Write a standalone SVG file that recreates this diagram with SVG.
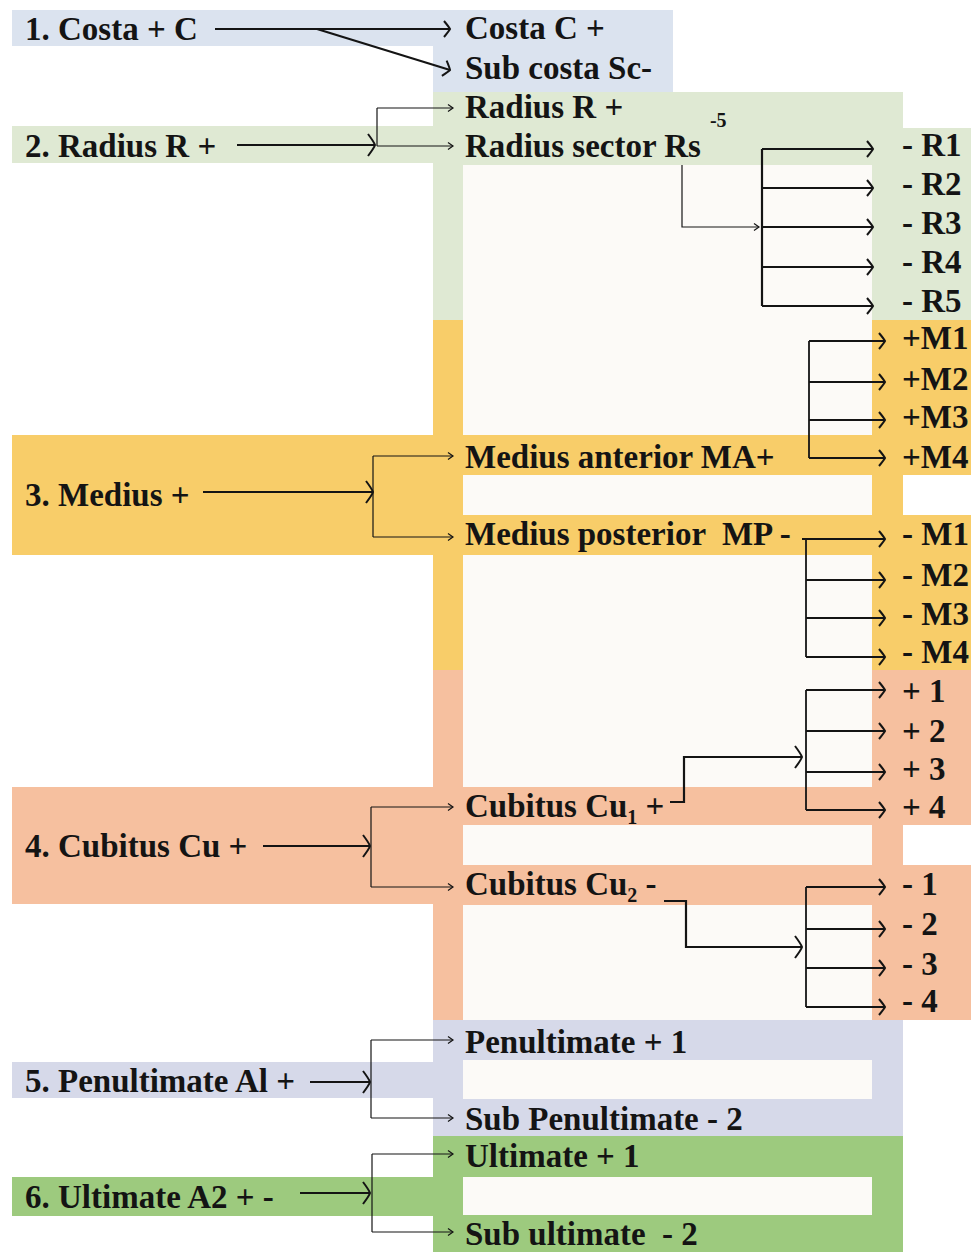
<svg xmlns="http://www.w3.org/2000/svg" width="971" height="1252" viewBox="0 0 971 1252">
<style>
text{font-family:"Liberation Serif","Times New Roman",serif;font-weight:bold;font-size:33px;fill:#141414}
.sup{font-size:20px}
.c1{fill:#dbe3ef}.c2{fill:#dfe9d3}.c3{fill:#f8cd69}.c4{fill:#f6c09f}.c5{fill:#d6d9e9}.c6{fill:#9dca7e}.ow{fill:#fcfaf7}
.th{stroke:#141414;stroke-width:2.2;fill:none}
.md{stroke:#141414;stroke-width:1.8;fill:none}
.tn{stroke:#141414;stroke-width:1.2;fill:none}
</style>
<defs>
<marker id="big" markerUnits="userSpaceOnUse" viewBox="-10 -12 12 24" markerWidth="12" markerHeight="24" refX="0" refY="0" orient="auto"><path d="M-7,-11 Q-1,-3 0,0 Q-1,3 -7,11" fill="none" stroke="#141414" stroke-width="2"/></marker>
<marker id="mid" markerUnits="userSpaceOnUse" viewBox="-10 -9 12 18" markerWidth="12" markerHeight="18" refX="0" refY="0" orient="auto"><path d="M-6,-8 Q-1,-2 0,0 Q-1,2 -6,8" fill="none" stroke="#141414" stroke-width="2"/></marker>
<marker id="sm" markerUnits="userSpaceOnUse" viewBox="-8 -5 10 10" markerWidth="10" markerHeight="10" refX="0" refY="0" orient="auto"><path d="M-5,-3.5 L0,0 L-5,3.5" fill="none" stroke="#141414" stroke-width="1.2"/></marker>
</defs>
<rect x="0" y="0" width="971" height="1252" fill="#ffffff"/>
<g id="bands">
<rect class="c1" x="12" y="10" width="661" height="36"/>
<rect class="c1" x="433" y="46" width="240" height="46"/>
<rect class="c2" x="12" y="126" width="421" height="37"/>
<rect class="c2" x="433" y="92" width="470" height="36"/>
<rect class="c2" x="433" y="128" width="538" height="37"/>
<rect class="c2" x="433" y="165" width="30" height="155"/>
<rect class="c2" x="872" y="165" width="99" height="155"/>
<rect class="ow" x="463" y="165" width="409" height="155"/>
<rect class="c3" x="433" y="320" width="30" height="350"/>
<rect class="c3" x="872" y="320" width="99" height="155"/>
<rect class="c3" x="872" y="475" width="31" height="40"/>
<rect class="c3" x="872" y="515" width="99" height="155"/>
<rect class="c3" x="463" y="435" width="409" height="40"/>
<rect class="c3" x="463" y="515" width="409" height="40"/>
<rect class="c3" x="12" y="435" width="421" height="120"/>
<rect class="ow" x="463" y="320" width="409" height="115"/>
<rect class="ow" x="463" y="475" width="409" height="40"/>
<rect class="ow" x="463" y="555" width="409" height="115"/>
<rect class="c4" x="433" y="670" width="30" height="350"/>
<rect class="c4" x="872" y="670" width="99" height="155"/>
<rect class="c4" x="872" y="825" width="31" height="40"/>
<rect class="c4" x="872" y="865" width="99" height="155"/>
<rect class="c4" x="463" y="787" width="409" height="38"/>
<rect class="c4" x="463" y="865" width="409" height="40"/>
<rect class="c4" x="12" y="787" width="421" height="117"/>
<rect class="ow" x="463" y="670" width="409" height="117"/>
<rect class="ow" x="463" y="825" width="409" height="40"/>
<rect class="ow" x="463" y="905" width="409" height="115"/>
<rect class="c5" x="433" y="1020" width="470" height="116"/>
<rect class="c5" x="12" y="1062" width="421" height="36"/>
<rect class="ow" x="463" y="1060" width="409" height="39"/>
<rect class="c6" x="433" y="1136" width="470" height="116"/>
<rect class="c6" x="12" y="1177" width="421" height="39"/>
<rect class="ow" x="463" y="1177" width="409" height="38"/>
</g>
<g id="connectors">
<path class="th" d="M215,29 H450" marker-end="url(#mid)"/>
<path class="th" d="M317,29 L450,70" marker-end="url(#mid)"/>
<path class="th" d="M237,145 H375" marker-end="url(#big)"/>
<path class="tn" d="M377,108 V146"/>
<path class="tn" d="M377,108 H453" marker-end="url(#sm)"/>
<path class="tn" d="M377,146 H453" marker-end="url(#sm)"/>
<path class="tn" d="M682,165 V227 H759" marker-end="url(#sm)"/>
<path class="th" d="M762,149 V306"/>
<path class="th" d="M762,149 H873" marker-end="url(#mid)"/>
<path class="th" d="M762,188 H873" marker-end="url(#mid)"/>
<path class="th" d="M762,227 H873" marker-end="url(#mid)"/>
<path class="th" d="M762,267 H873" marker-end="url(#mid)"/>
<path class="th" d="M762,306 H873" marker-end="url(#mid)"/>
<path class="th" d="M203,492 H373" marker-end="url(#big)"/>
<path class="tn" d="M373,456 V537"/>
<path class="tn" d="M373,456 H453" marker-end="url(#sm)"/>
<path class="tn" d="M373,537 H453" marker-end="url(#sm)"/>
<path class="md" d="M809,341 V458"/>
<path class="md" d="M809,341 H885" marker-end="url(#mid)"/>
<path class="md" d="M809,382 H885" marker-end="url(#mid)"/>
<path class="md" d="M809,420 H885" marker-end="url(#mid)"/>
<path class="md" d="M809,458 H885" marker-end="url(#mid)"/>
<path class="md" d="M806,539 V657"/>
<path class="md" d="M802,539 H885" marker-end="url(#mid)"/>
<path class="md" d="M806,580 H885" marker-end="url(#mid)"/>
<path class="md" d="M806,618 H885" marker-end="url(#mid)"/>
<path class="md" d="M806,657 H885" marker-end="url(#mid)"/>
<path class="th" d="M263,846 H370" marker-end="url(#big)"/>
<path class="tn" d="M371,807 V887"/>
<path class="tn" d="M371,807 H453" marker-end="url(#sm)"/>
<path class="tn" d="M371,887 H453" marker-end="url(#sm)"/>
<path class="th" d="M670,802 H684 V757 H802" marker-end="url(#big)"/>
<path class="md" d="M806,690 V810"/>
<path class="md" d="M806,690 H885" marker-end="url(#mid)"/>
<path class="md" d="M806,731 H885" marker-end="url(#mid)"/>
<path class="md" d="M806,772 H885" marker-end="url(#mid)"/>
<path class="md" d="M806,810 H885" marker-end="url(#mid)"/>
<path class="th" d="M664,901 H686 V947 H802" marker-end="url(#big)"/>
<path class="md" d="M806,887 V1007"/>
<path class="md" d="M806,887 H885" marker-end="url(#mid)"/>
<path class="md" d="M806,929 H885" marker-end="url(#mid)"/>
<path class="md" d="M806,968 H885" marker-end="url(#mid)"/>
<path class="md" d="M806,1007 H885" marker-end="url(#mid)"/>
<path class="th" d="M310,1082 H370" marker-end="url(#big)"/>
<path class="tn" d="M371,1040 V1118"/>
<path class="tn" d="M371,1040 H453" marker-end="url(#sm)"/>
<path class="tn" d="M371,1118 H453" marker-end="url(#sm)"/>
<path class="th" d="M300,1193 H370" marker-end="url(#big)"/>
<path class="tn" d="M372,1154 V1232"/>
<path class="tn" d="M372,1154 H453" marker-end="url(#sm)"/>
<path class="tn" d="M372,1232 H453" marker-end="url(#sm)"/>
</g>
<g id="n-costa"><text x="25" y="40">1. Costa + C</text><text x="465" y="39">Costa C +</text><text x="465" y="79">Sub costa Sc-</text></g>
<g id="n-radius"><text x="25" y="157">2. Radius R +</text><text x="465" y="118">Radius R +</text><text x="465" y="157">Radius sector Rs<tspan class="sup" dx="9" dy="-30">-5</tspan></text>
<text x="902" y="156">- R1</text><text x="902" y="195">- R2</text><text x="902" y="234">- R3</text><text x="902" y="273">- R4</text><text x="902" y="312">- R5</text></g>
<g id="n-medius"><text x="25" y="506">3. Medius +</text><text x="465" y="468">Medius anterior MA+</text><text x="465" y="545" xml:space="preserve">Medius posterior  MP -</text>
<text x="902" y="349">+M1</text><text x="902" y="390">+M2</text><text x="902" y="428">+M3</text><text x="902" y="468">+M4</text>
<text x="902" y="545">- M1</text><text x="902" y="586">- M2</text><text x="902" y="625">- M3</text><text x="902" y="663">- M4</text></g>
<g id="n-cubitus"><text x="25" y="857">4. Cubitus Cu +</text><text x="465" y="817">Cubitus Cu<tspan class="sup" dy="7">1</tspan><tspan dy="-7"> +</tspan></text><text x="465" y="895">Cubitus Cu<tspan class="sup" dy="7">2</tspan><tspan dy="-7"> -</tspan></text>
<text x="902" y="702">+ 1</text><text x="902" y="742">+ 2</text><text x="902" y="780">+ 3</text><text x="902" y="818">+ 4</text>
<text x="902" y="895">- 1</text><text x="902" y="935">- 2</text><text x="902" y="975">- 3</text><text x="902" y="1012">- 4</text></g>
<g id="n-penultimate"><text x="25" y="1092">5. Penultimate Al +</text><text x="465" y="1053">Penultimate + 1</text><text x="465" y="1130">Sub Penultimate - 2</text></g>
<g id="n-ultimate"><text x="25" y="1208">6. Ultimate A2 + -</text><text x="465" y="1167">Ultimate + 1</text><text x="465" y="1245" xml:space="preserve">Sub ultimate  - 2</text></g>
</svg>
